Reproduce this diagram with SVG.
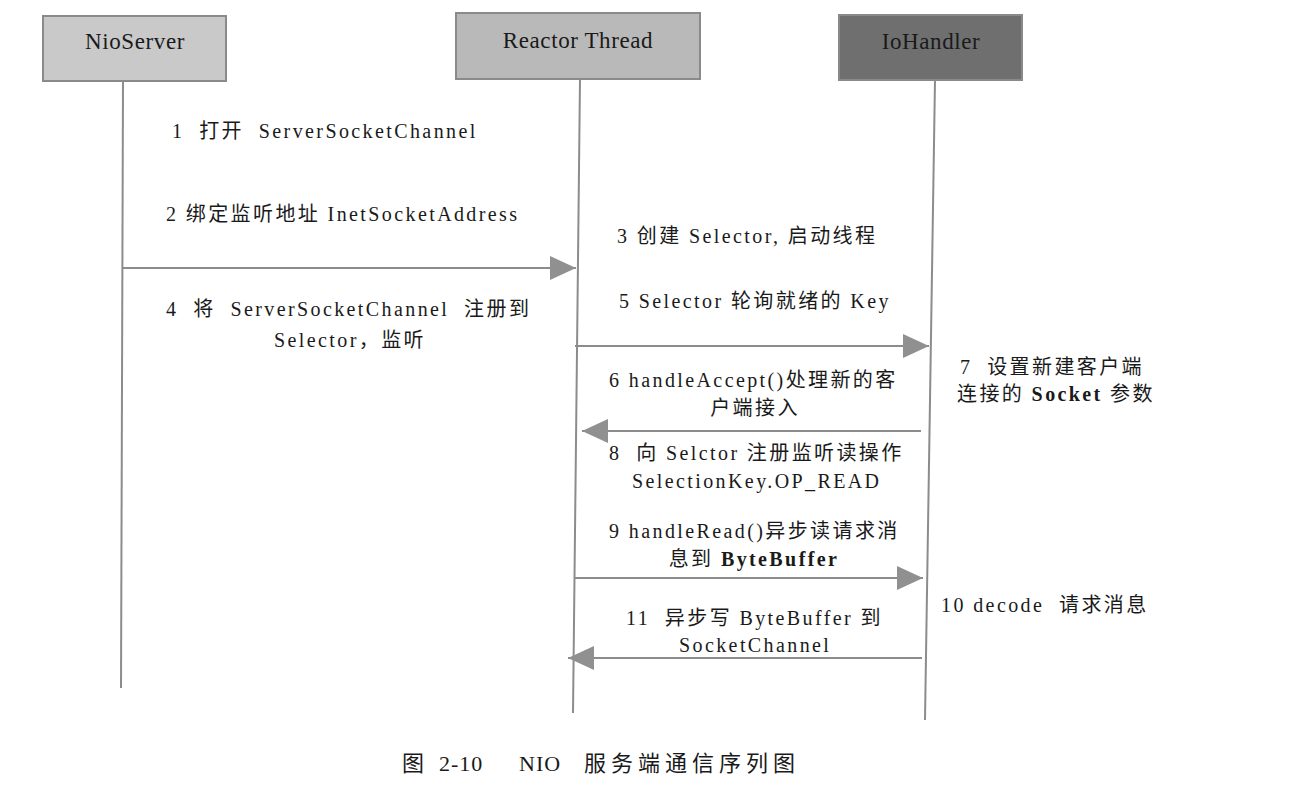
<svg xmlns="http://www.w3.org/2000/svg" width="1314" height="792" viewBox="0 0 1314 792">
<style>
.box{stroke:#8a8a8a;stroke-width:2}
.life{stroke:#8c8c8c;stroke-width:2;fill:none}
.msg{stroke:#8c8c8c;stroke-width:2;fill:none}
.t{font-family:"Liberation Serif","Noto Sans CJK SC",serif;font-size:20px;letter-spacing:2.4px;fill:#1a1a1a}
.c{text-anchor:middle}
.hd{font-family:"Liberation Serif","Noto Sans CJK SC",serif;font-size:23px;letter-spacing:0.6px;fill:#1a1a1a;text-anchor:middle}
.b{font-weight:bold}
</style>
<defs>
<marker id="arr" viewBox="0 0 26 24" refX="26" refY="12" markerWidth="26" markerHeight="24" markerUnits="userSpaceOnUse" orient="auto">
<path d="M0,0 L26,12 L0,24 Z" fill="#909090"/>
</marker>
</defs>
<rect width="1314" height="792" fill="#ffffff"/>
<g id="nioserver">
<rect class="box" x="43" y="16" width="183" height="65" fill="#c9c9c9"/>
<text class="hd" x="135" y="49">NioServer</text>
<line class="life" x1="123" y1="81" x2="121" y2="688"/>
</g>
<g id="reactor">
<rect class="box" x="456" y="13" width="244" height="66" fill="#b9b9b9" stroke="#b0b0b0"/>
<text class="hd" x="578" y="48">Reactor Thread</text>
<line class="life" x1="580" y1="79" x2="573" y2="713"/>
</g>
<g id="iohandler">
<rect class="box" x="839" y="15" width="183" height="65" fill="#6f6f6f" stroke="#9a9a9a"/>
<text class="hd" x="931" y="49">IoHandler</text>
<line class="life" x1="935" y1="80" x2="925" y2="720"/>
</g>
<g id="connectors">
<line class="msg" x1="122" y1="268" x2="576" y2="268" marker-end="url(#arr)"/>
<line class="msg" x1="575" y1="346" x2="929" y2="346" marker-end="url(#arr)"/>
<line class="msg" x1="921" y1="431" x2="582" y2="431" marker-end="url(#arr)"/>
<line class="msg" x1="575" y1="578" x2="923" y2="578" marker-end="url(#arr)"/>
<line class="msg" x1="922" y1="658" x2="568" y2="658" marker-end="url(#arr)"/>
</g>
<g id="labels">
<text class="t" x="172" y="138" xml:space="preserve">1  打开  ServerSocketChannel</text>
<text class="t" x="166" y="221">2  绑定监听地址 InetSocketAddress</text>
<text class="t" x="617" y="243">3  创建 Selector,  启动线程</text>
<text class="t" x="166" y="316" xml:space="preserve">4  将  ServerSocketChannel  注册到</text>
<text class="t c" x="350" y="347">Selector，监听</text>
<text class="t" x="619" y="308">5 Selector 轮询就绪的 Key</text>
<text class="t" x="609" y="387">6 handleAccept()处理新的客</text>
<text class="t c" x="755" y="415">户端接入</text>
<text class="t" x="960" y="374" xml:space="preserve">7  设置新建客户端</text>
<text class="t" x="957" y="401">连接的 <tspan class="b">Socket</tspan> 参数</text>
<text class="t" x="609" y="460" xml:space="preserve">8  向 Selctor 注册监听读操作</text>
<text class="t" x="632" y="488">SelectionKey.OP_READ</text>
<text class="t" x="609" y="538">9 handleRead()异步读请求消</text>
<text class="t c" x="754" y="566">息到 <tspan class="b">ByteBuffer</tspan></text>
<text class="t" x="941" y="612" xml:space="preserve">10 decode  请求消息</text>
<text class="t" x="626" y="625" xml:space="preserve">11  异步写 ByteBuffer 到</text>
<text class="t" x="679" y="652">SocketChannel</text>
<text class="t" y="771" style="font-size:22px;letter-spacing:1px"><tspan x="402">图</tspan><tspan x="439">2-10</tspan><tspan x="519">NIO</tspan><tspan x="584" style="letter-spacing:5px">服务端通信序列图</tspan></text>
</g>
</svg>
